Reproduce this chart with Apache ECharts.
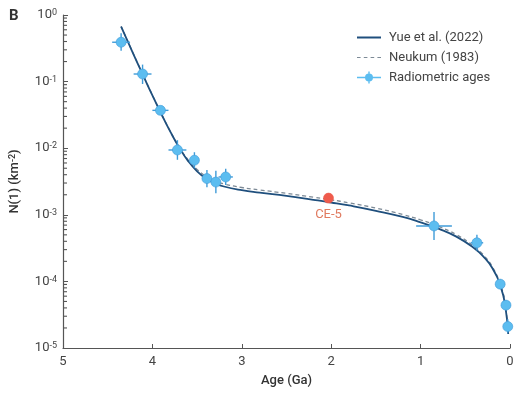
<!DOCTYPE html>
<html>
<head>
<meta charset="utf-8">
<script src="https://cdn.jsdelivr.net/npm/echarts@6/dist/echarts.min.js"></script>
<style>
  html, body { margin: 0; padding: 0; background: #fff; }
  #chart { width: 526px; height: 398px; }
</style>
</head>
<body>
<div id="chart"></div>
<script>
// ── 数据：年龄 (Ga) 与 N(1) (km^-2)，读自原图 ──
const curveAges   = [4.35, 4.3, 4.2, 4.1, 4.0, 3.9, 3.8, 3.7, 3.6, 3.5, 3.4, 3.3, 3.2, 3.0, 2.8, 2.5, 2.2, 2.0, 1.8, 1.5, 1.2, 1.0, 0.8, 0.6, 0.4, 0.3, 0.2, 0.1, 0.05, 0.02];
const yueVals     = [0.67, 0.475, 0.237, 0.121, 0.062, 0.0326, 0.0177, 0.0102, 0.0064, 0.0045, 0.00352, 0.00298, 0.00266, 0.00234, 0.00215, 0.00192, 0.00168, 0.00153, 0.00138, 0.00115, 0.00093, 0.00077, 0.00062, 0.00047, 0.000315, 0.000238, 0.00016, 0.00008, 0.00004, 0.0000162];
const neukumVals  = [0.68, 0.48, 0.24, 0.122, 0.0628, 0.033, 0.018, 0.0105, 0.0067, 0.0048, 0.00378, 0.00323, 0.00291, 0.00257, 0.00236, 0.0021, 0.00184, 0.00168, 0.00151, 0.00126, 0.00101, 0.00084, 0.00067, 0.000503, 0.000335, 0.000251, 0.000168, 0.0000838, 0.0000419, 0.0000168];

// 放射性年龄样本点：年龄、N(1)、年龄误差、N 下限、N 上限
const sampleAges   = [4.35, 4.11, 3.91, 3.72, 3.53, 3.39, 3.29, 3.18, 0.85, 0.37, 0.11, 0.045, 0.025];
const sampleN      = [0.39, 0.13, 0.037, 0.0094, 0.0066, 0.0035, 0.0031, 0.0037, 0.00068, 0.00038, 0.000091, 0.000044, 0.000021];
const sampleAgeErr = [0.10, 0.10, 0.09, 0.10, 0.03, 0.05, 0.05, 0.08, 0.20, 0.07, 0.01, 0.005, 0.005];
const sampleNLow   = [0.29, 0.092, 0.032, 0.0067, 0.0050, 0.0026, 0.0021, 0.0028, 0.00042, 0.00029, 0.000077, 0.000037, 0.000017];
const sampleNHigh  = [0.53, 0.18, 0.042, 0.0132, 0.0087, 0.0047, 0.0046, 0.0049, 0.0011, 0.0005, 0.000108, 0.000052, 0.000027];

// 嫦娥五号样本
const ce5Age = [2.03];
const ce5N = [0.00178];
const ce5AgeErr = [0.01];
const ce5NLow = [0.00155];
const ce5NHigh = [0.00185];

// 对数轴次刻度值（每个十倍程内 2…9）
const minorTickVals = [];
[-5, -4, -3, -2, -1].forEach((d) => {
  for (let m = 2; m <= 9; m++) minorTickVals.push(m * Math.pow(10, d));
});

const AGE_MAX = 5;

const COLORS = {
  yue: '#1f4f7d',
  neukum: '#7d8a96',
  dot: '#5cbdf0',
  err: '#3f9bd8',
  ce5: '#ef5b4c',
  ce5Text: '#e07a5f',
  axis: '#555',
  text: '#444',
};
const FONT = 'Roboto, "Noto Sans", sans-serif';

// 图例图标
const ICON_SOLID = 'path://M0,5H24V7H0Z';
const ICON_DASH = 'path://M0,5.4H3.6V6.6H0Z M6.8,5.4H10.4V6.6H6.8Z M13.6,5.4H17.2V6.6H13.6Z M20.4,5.4H24V6.6H20.4Z';
const ICON_ERR = 'path://M0,5.3H24V6.7H0Z M11.3,0H12.7V12H11.3Z M16,6A4,4,0,1,1,8,6A4,4,0,1,1,16,6Z';

function errItem(color, dotColor, label) {
  return function (params, api) {
    const a = api.value(0), n = api.value(1), ae = api.value(2), lo = api.value(3), hi = api.value(4);
    const c = api.coord([a, n]);
    const l = api.coord([a + ae, n]);
    const r = api.coord([a - ae, n]);
    const b = api.coord([a, lo]);
    const t = api.coord([a, hi]);
    const children = [
      { type: 'line', shape: { x1: l[0], y1: l[1], x2: r[0], y2: r[1] }, style: { stroke: color, lineWidth: 1.4 } },
      { type: 'line', shape: { x1: b[0], y1: b[1], x2: t[0], y2: t[1] }, style: { stroke: color, lineWidth: 1.4 } },
      { type: 'circle', shape: { cx: c[0], cy: c[1], r: 5 }, style: { fill: dotColor, stroke: color, lineWidth: 0.6 } },
    ];
    if (label) {
      children.push({
        type: 'text',
        style: { x: c[0], y: c[1] + 10, text: label, fill: COLORS.ce5Text, font: '13px ' + FONT, align: 'center', verticalAlign: 'top' },
      });
    }
    return { type: 'group', children };
  };
}

// 次刻度：y 取自数据值，x 贴左侧坐标轴（网格左缘）
function minorTickItem(params, api) {
  const p = api.coord([api.value(0), api.value(1)]);
  const x0 = api.coord([AGE_MAX, api.value(1)])[0];
  return {
    type: 'group',
    children: [{
      type: 'line',
      shape: { x1: x0, y1: p[1], x2: x0 + 4, y2: p[1] },
      style: { stroke: COLORS.axis, lineWidth: 1.1 },
    }],
  };
}

const chart = echarts.init(document.getElementById('chart'));
chart.setOption({
  animation: false,
  textStyle: { fontFamily: FONT },
  grid: { left: 62, right: 16, top: 15, bottom: 50 },
  graphic: [{
    type: 'text', left: 9, top: 9,
    style: { text: 'B', font: 'bold 15px ' + FONT, fill: '#333' },
  }],
  legend: {
    orient: 'vertical',
    left: 352, top: 26,
    itemWidth: 24, itemHeight: 12, itemGap: 7,
    textStyle: { color: COLORS.text, fontSize: 13, padding: [0, 0, 0, 3] },
    data: [
      { name: 'Yue et al. (2022)', icon: ICON_SOLID, itemStyle: { color: COLORS.yue } },
      { name: 'Neukum (1983)', icon: ICON_DASH, itemStyle: { color: COLORS.neukum } },
      { name: 'Radiometric ages', icon: ICON_ERR, itemStyle: { color: COLORS.dot } },
    ],
  },
  xAxis: {
    type: 'value', min: 0, max: AGE_MAX, interval: 1, inverse: true,
    name: 'Age (Ga)', nameLocation: 'middle', nameGap: 26,
    nameTextStyle: { color: '#333', fontSize: 13, fontWeight: 500 },
    axisLine: { onZero: false, lineStyle: { color: COLORS.axis, width: 1.2 } },
    axisTick: { inside: true, length: 4, lineStyle: { color: COLORS.axis } },
    axisLabel: { color: COLORS.text, fontSize: 13, margin: 7 },
    splitLine: { show: false },
  },
  yAxis: {
    type: 'log', logBase: 10, min: 1e-5, max: 1,
    name: 'N(1) (km{s|-2})', nameLocation: 'middle', nameGap: 42, nameRotate: 90,
    nameTextStyle: {
      color: '#333', fontSize: 13, fontWeight: 500,
      rich: { s: { fontSize: 9, verticalAlign: 'top', color: '#333', fontWeight: 500 } },
    },
    axisLine: { show: true, onZero: false, lineStyle: { color: COLORS.axis, width: 1.2 } },
    axisTick: { inside: true, length: 5, lineStyle: { color: COLORS.axis } },
    axisLabel: {
      color: COLORS.text, margin: 6,
      formatter: function (v) {
        const e = Math.round(Math.log10(v));
        return '{b|10}{s|' + e + '}';
      },
      rich: {
        b: { fontSize: 13, color: COLORS.text },
        s: { fontSize: 9, color: COLORS.text, verticalAlign: 'top' },
      },
    },
    splitLine: { show: false },
  },
  series: [
    {
      name: 'Neukum (1983)', type: 'line', smooth: true, symbol: 'none', z: 2,
      lineStyle: { color: COLORS.neukum, width: 1.3, type: [4, 3] },
      itemStyle: { color: COLORS.neukum },
      data: curveAges.map((a, i) => [a, neukumVals[i]]),
    },
    {
      name: 'Yue et al. (2022)', type: 'line', smooth: true, symbol: 'none', z: 3,
      lineStyle: { color: COLORS.yue, width: 1.8 },
      itemStyle: { color: COLORS.yue },
      data: curveAges.map((a, i) => [a, yueVals[i]]),
    },
    {
      name: 'Radiometric ages', type: 'custom', z: 5,
      itemStyle: { color: COLORS.dot },
      renderItem: errItem(COLORS.err, COLORS.dot),
      data: sampleAges.map((a, i) => [a, sampleN[i], sampleAgeErr[i], sampleNLow[i], sampleNHigh[i]]),
    },
    {
      name: 'CE-5', type: 'custom', z: 6,
      renderItem: errItem(COLORS.ce5, COLORS.ce5, 'CE-5'),
      data: ce5Age.map((a, i) => [a, ce5N[i], ce5AgeErr[i], ce5NLow[i], ce5NHigh[i]]),
    },
    {
      name: 'Minor ticks', type: 'custom', z: 6, silent: true,
      renderItem: minorTickItem,
      data: minorTickVals.map((v) => [AGE_MAX / 2, v]),
    },
  ],
});
</script>
</body>
</html>
